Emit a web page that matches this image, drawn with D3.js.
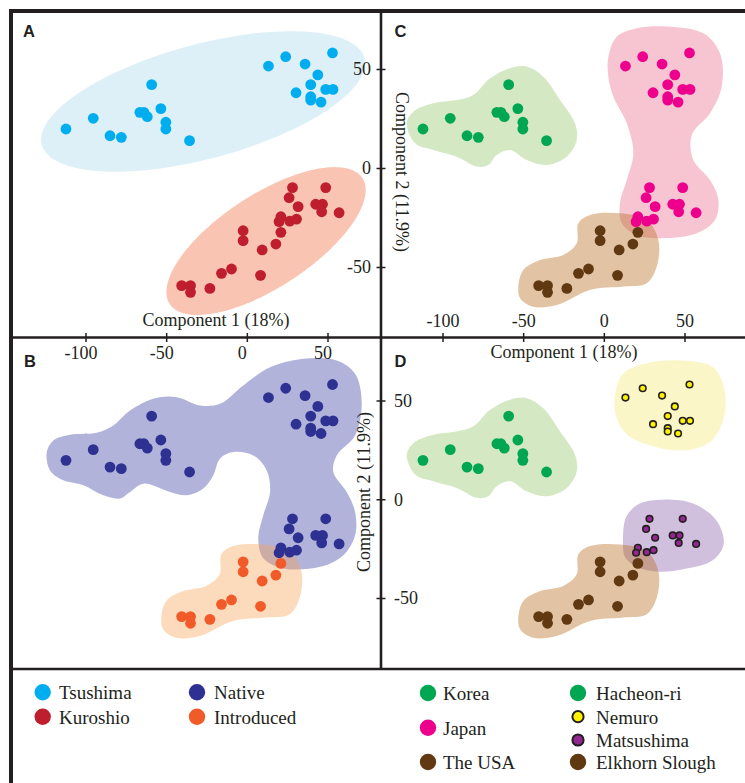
<!DOCTYPE html>
<html>
<head>
<meta charset="utf-8">
<script src="https://cdn.jsdelivr.net/npm/d3@7"></script>
<style>
  html, body { margin: 0; padding: 0; background: #ffffff; }
  svg { display: block; }
  text { font-family: "Liberation Serif", "Times New Roman", serif; fill: #231f20; }
  .panel-label { font-family: "Liberation Sans", Arial, sans-serif; font-weight: bold; font-size: 16.5px; }
</style>
</head>
<body>
<svg id="fig" width="745" height="783"></svg>
<script>
// ---------- PCA scores (Component 1, Component 2) per sampling site ----------
const hacheonri = [[-112.1,19.7],[-95.2,25.1],[-84.8,16.3],[-77.8,15.5],[-59.0,42.1],[-66.3,28.1],
                   [-63.8,28.1],[-61.7,25.9],[-53.3,30.0],[-50.2,23.1],[-50.2,19.7],[-35.5,13.8]];
const nemuro     = [[13.4,51.5],[24.1,56.2],[36.1,52.5],[53.1,58.1],[44.0,47.0],[39.6,42.1],
                   [30.5,38.0],[48.9,39.7],[53.4,39.7],[39.6,36.0],[39.6,34.3],[46.0,33.3]];
const matsushima = [[28.3,-9.9],[48.9,-9.9],[26.2,-15.0],[31.8,-19.5],[42.7,-18.3],[46.9,-18.3],
                   [46.4,-22.1],[57.2,-22.6],[21.1,-24.6],[20.0,-27.1],[26.6,-26.8],[30.8,-25.8]];
const elkhorn    = [[21.1,-32.5],[-2.3,-31.7],[-2.3,-36.7],[9.5,-41.4],[18.0,-38.4],[-9.5,-51.0],
                   [-15.7,-53.2],[8.5,-54.2],[-40.4,-59.4],[-34.9,-59.4],[-34.9,-62.8],[-22.9,-60.8]];

// axis ticks
const xTicks = [-100, -50, 0, 50];
const yTicks = [-50, 0, 50];

// ---------- group outlines in PCA units ----------
// ellipses: centre plus two conjugate semi-axis vectors
const tsushimaEllipse = { c: [-27.1, 33.6], u: [100.0, 21.9], v: [9.2, -27.9] };
const kuroshioEllipse = { c: [11.9, -36.9], u: [59.7, 31.8], v: [15.8, -19.6] };

const nativeHull = [[-124.0,23.9],[-119.9,29.8],[-109.6,32.7],[-93.0,33.7],[-82.7,37.4],[-72.4,44.9],
  [-58.0,50.9],[-43.5,51.7],[-29.0,47.5],[-16.6,48.3],[-2.2,57.6],[14.4,66.8],[35.0,71.1],[55.7,70.2],
  [67.1,63.5],[71.2,49.1],[67.1,32.3],[55.7,22.2],[53.6,13.8],[61.9,3.7],[67.1,-6.4],[67.1,-18.2],
  [59.8,-28.3],[45.4,-34.2],[22.6,-35.0],[10.2,-29.9],[7.1,-19.8],[10.2,-8.1],[14.4,3.7],[12.3,14.6],
  [4.0,22.2],[-8.4,23.9],[-16.6,20.6],[-20.8,12.1],[-27.0,5.4],[-37.3,2.0],[-47.6,3.7],[-64.2,7.9],
  [-72.4,3.7],[-78.6,0.4],[-88.9,2.0],[-101.3,7.1],[-113.7,9.6],[-122.0,14.6]];
const koreaHull = [[-122.2,22.6],[-118.1,28.4],[-105.7,32.7],[-91.2,34.3],[-80.9,36.9],[-70.5,45.3],
  [-58.1,50.4],[-47.8,51.2],[-37.5,46.1],[-27.1,34.3],[-17.9,22.6],[-16.8,14.1],[-23.0,5.7],[-35.4,1.5],
  [-47.8,4.0],[-58.1,9.1],[-66.4,6.6],[-71.6,1.5],[-78.8,0.7],[-91.2,5.7],[-105.7,9.1],[-117.0,12.5]];
const japanHull = [[2.8,56.2],[8.0,66.3],[20.4,70.6],[41.0,71.4],[61.7,68.0],[72.0,57.9],[73.1,41.1],
  [65.8,27.6],[54.5,16.7],[55.5,4.0],[65.8,-6.1],[71.0,-16.2],[68.9,-26.3],[57.6,-33.0],[36.9,-35.5],
  [20.4,-33.8],[11.1,-27.9],[10.0,-17.8],[14.2,-6.1],[18.3,7.4],[14.2,22.6],[5.9,36.0],[2.8,46.1]];
const usaHull = [[-53.0,-59.9],[-49.9,-51.5],[-39.5,-46.5],[-25.1,-43.9],[-16.8,-38.0],[-15.8,-27.9],
  [-8.6,-23.7],[10.0,-22.9],[26.6,-26.3],[33.8,-36.4],[32.8,-49.8],[26.6,-58.2],[12.1,-59.9],
  [-8.6,-61.6],[-29.2,-69.2],[-43.7,-70.1],[-51.9,-65.8]];
const nemuroHull = [[6.8,51.7],[11.9,63.5],[28.5,69.3],[49.1,70.2],[67.7,66.8],[74.9,55.1],[73.9,39.9],
  [65.6,28.9],[49.1,24.7],[28.5,27.3],[13.9,33.2],[7.7,41.6]];
const matsushimaHull = [[11.9,-23.2],[13.9,-8.9],[22.3,-2.2],[36.7,-0.2],[55.3,-2.2],[69.7,-10.6],
  [74.3,-22.4],[67.7,-30.8],[49.1,-35.5],[34.6,-36.7],[20.1,-34.2],[13.0,-29.1]];

// ---------- colours ----------
const C = {
  tsushima: "#00aeef", kuroshio: "#be1e2d", native: "#2e3192", introduced: "#f15a29",
  korea: "#00a651", japan: "#ec008c", usa: "#603913", nemuro: "#fff200", matsushima: "#92278f",
  ink: "#231f20"
};
const HULL_OPACITY = 0.4;
const H = {
  tsushima: "#aad9ed", kuroshio: "#f06b3f", native: "#3c41a2", introduced: "#f8a358",
  korea: "#96c66c", japan: "#eb6e8f", usa: "#b76c1c", nemuro: "#f3e976", matsushima: "#8a62aa"
};

// ---------- layout ----------
const svg = d3.select("#fig");
const divX = 381, divY = 337.5, legendY = 669;

const xAB = d3.scaleLinear().domain([-100, 50]).range([85.5, 327.5]);
const xCD = d3.scaleLinear().domain([-100, 50]).range([442.5, 684.5]);
const yAC = d3.scaleLinear().domain([-50, 50]).range([267, 69]);
const yBD = d3.scaleLinear().domain([-50, 50]).range([598, 400.5]);

svg.append("rect").attr("width", 745).attr("height", 783).attr("fill", "#ffffff");

const panels = {
  A: { x: xAB, y: yAC }, B: { x: xAB, y: yBD },
  C: { x: xCD, y: yAC }, D: { x: xCD, y: yBD }
};

function hull(p, pts, fill) {
  const line = d3.line().x(d => p.x(d[0])).y(d => p.y(d[1]))
    .curve(d3.curveCatmullRomClosed.alpha(0.5));
  svg.append("path").attr("d", line(pts)).attr("fill", fill).attr("fill-opacity", HULL_OPACITY);
}
function ellipse(p, e, fill) {
  const pts = d3.range(0, 2 * Math.PI, Math.PI / 90).map(t => [
    e.c[0] + e.u[0] * Math.cos(t) + e.v[0] * Math.sin(t),
    e.c[1] + e.u[1] * Math.cos(t) + e.v[1] * Math.sin(t)
  ]);
  const line = d3.line().x(d => p.x(d[0])).y(d => p.y(d[1])).curve(d3.curveLinearClosed);
  svg.append("path").attr("d", line(pts)).attr("fill", fill).attr("fill-opacity", HULL_OPACITY);
}
function dots(p, pts, color, outlined) {
  svg.append("g").selectAll("circle").data(pts).join("circle")
    .attr("cx", d => p.x(d[0])).attr("cy", d => p.y(d[1]))
    .attr("r", outlined ? 3.3 : 5.4)
    .attr("fill", color)
    .attr("stroke", outlined ? C.ink : "none")
    .attr("stroke-width", outlined ? 1.6 : 0);
}

// Panel A: ocean current
ellipse(panels.A, tsushimaEllipse, H.tsushima);
ellipse(panels.A, kuroshioEllipse, H.kuroshio);
dots(panels.A, hacheonri.concat(nemuro), C.tsushima);
dots(panels.A, matsushima.concat(elkhorn), C.kuroshio);

// Panel B: native vs introduced
hull(panels.B, nativeHull, H.native);
hull(panels.B, usaHull, H.introduced);
dots(panels.B, hacheonri.concat(nemuro, matsushima), C.native);
dots(panels.B, elkhorn, C.introduced);

// Panel C: country
hull(panels.C, koreaHull, H.korea);
hull(panels.C, japanHull, H.japan);
hull(panels.C, usaHull, H.usa);
dots(panels.C, hacheonri, C.korea);
dots(panels.C, nemuro.concat(matsushima), C.japan);
dots(panels.C, elkhorn, C.usa);

// Panel D: site
hull(panels.D, koreaHull, H.korea);
hull(panels.D, nemuroHull, H.nemuro);
hull(panels.D, matsushimaHull, H.matsushima);
hull(panels.D, usaHull, H.usa);
dots(panels.D, hacheonri, C.korea);
dots(panels.D, elkhorn, C.usa);
dots(panels.D, nemuro, C.nemuro, true);
dots(panels.D, matsushima, C.matsushima, true);

// ---------- frame and dividers ----------
const frame = svg.append("g").attr("stroke", C.ink).attr("fill", "none");
frame.append("rect").attr("x", 11).attr("y", 11).attr("width", 760).attr("height", 800).attr("stroke-width", 4);
frame.append("line").attr("x1", divX).attr("x2", divX).attr("y1", 11).attr("y2", legendY).attr("stroke-width", 2.6);
frame.append("line").attr("x1", 11).attr("x2", 760).attr("y1", divY).attr("y2", divY).attr("stroke-width", 2.6);
frame.append("line").attr("x1", 11).attr("x2", 760).attr("y1", legendY).attr("y2", legendY).attr("stroke-width", 2.6);

// ---------- axes ----------
function styleAxis(g) {
  g.select(".domain").remove();
  g.attr("font-size", 18).attr("font-family", null).attr("color", C.ink);
  g.selectAll(".tick line").attr("stroke-width", 1.5);
}
const fmt = d => String(d);

svg.append("g").attr("transform", `translate(-5,${divY - 4.5})`)
  .call(d3.axisBottom(xAB).tickValues(xTicks).tickSizeInner(9).tickSizeOuter(0).tickPadding(4).tickFormat(fmt))
  .call(styleAxis)
  .selectAll(".tick line").attr("transform", "translate(5,0)");
svg.append("g").attr("transform", `translate(0,${divY + 4.5})`)
  .call(d3.axisTop(xCD).tickValues(xTicks).tickSizeInner(9).tickSizeOuter(0).tickPadding(6).tickFormat(fmt))
  .call(styleAxis);
svg.append("g").attr("transform", `translate(${divX + 4.5},0)`)
  .call(d3.axisLeft(yAC).tickValues(yTicks).tickSizeInner(9).tickSizeOuter(0).tickPadding(5.5).tickFormat(fmt))
  .call(styleAxis);
svg.append("g").attr("transform", `translate(${divX - 4.5},0)`)
  .call(d3.axisRight(yBD).tickValues(yTicks).tickSizeInner(9).tickSizeOuter(0).tickPadding(8.5).tickFormat(fmt))
  .call(styleAxis);

// axis titles
const titles = svg.append("g").attr("font-size", 18);
titles.append("text").attr("x", 216).attr("y", 326).attr("text-anchor", "middle").text("Component 1 (18%)");
titles.append("text").attr("x", 564).attr("y", 358).attr("text-anchor", "middle").text("Component 1 (18%)");
titles.append("text").attr("transform", "translate(369.5,492) rotate(-90)")
  .attr("text-anchor", "middle").text("Component 2 (11.9%)");
titles.append("text").attr("transform", "translate(395.5,172) rotate(90)")
  .attr("text-anchor", "middle").text("Component 2 (11.9%)");

// panel letters
[["A", 23, 37.3], ["B", 24, 367.3], ["C", 394.5, 37.3], ["D", 394.5, 367.3]].forEach(([t, x, y]) =>
  svg.append("text").attr("class", "panel-label").attr("x", x).attr("y", y).text(t));

// ---------- legend ----------
const legendCols = [
  { cx: 42.7, tx: 59, items: [
    { name: "Tsushima", color: C.tsushima, cy: 692.3 },
    { name: "Kuroshio", color: C.kuroshio, cy: 716.7 }] },
  { cx: 197, tx: 214, items: [
    { name: "Native", color: C.native, cy: 692.3 },
    { name: "Introduced", color: C.introduced, cy: 716.7 }] },
  { cx: 428, tx: 443, items: [
    { name: "Korea", color: C.korea, cy: 693 },
    { name: "Japan", color: C.japan, cy: 727.7 },
    { name: "The USA", color: C.usa, cy: 762 }] },
  { cx: 578, tx: 596, items: [
    { name: "Hacheon-ri", color: C.korea, cy: 693 },
    { name: "Nemuro", color: C.nemuro, cy: 716.7, outlined: true },
    { name: "Matsushima", color: C.matsushima, cy: 740, outlined: true },
    { name: "Elkhorn Slough", color: C.usa, cy: 762 }] }
];
const lg = svg.append("g");
legendCols.forEach(col => col.items.forEach(it => {
  lg.append("circle").attr("cx", col.cx).attr("cy", it.cy)
    .attr("r", it.outlined ? 5.6 : 8.2)
    .attr("fill", it.color)
    .attr("stroke", it.outlined ? C.ink : "none")
    .attr("stroke-width", it.outlined ? 2 : 0);
  lg.append("text").attr("x", col.tx).attr("y", it.cy + 6.8).attr("font-size", 19).text(it.name);
}));
</script>
</body>
</html>
